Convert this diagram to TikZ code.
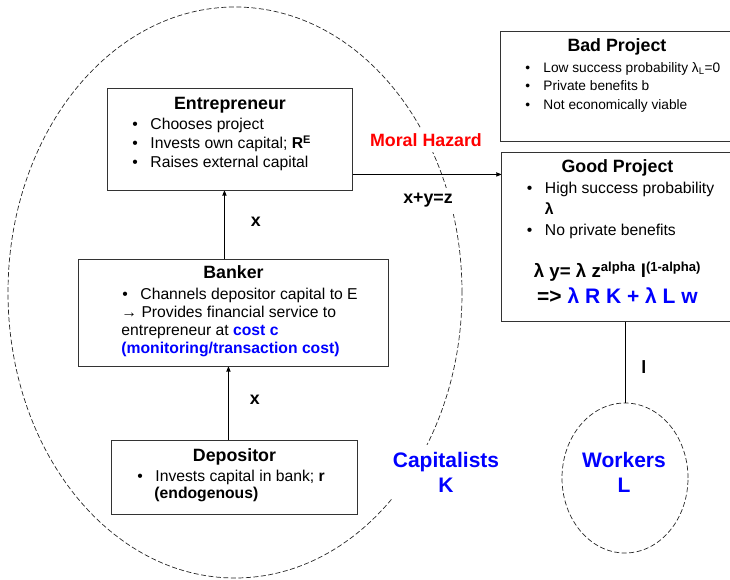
\documentclass[tikz,border=0pt]{standalone}
\usepackage{fontspec}
\setmainfont{Liberation Sans}
\usetikzlibrary{arrows,shapes.geometric,positioning}

% helpers for the text inside the boxes
\newcommand{\ttl}[2]{{\centering\fontsize{17.8}{18}\selectfont\bfseries\rule{0pt}{#1}#2\par}}
\newcommand{\itm}[2]{\hspace*{#1}\makebox[18pt][l]{\textbullet}\mbox{#2}\par}
\newcommand{\cnt}[2]{\hspace*{#1}\mbox{#2}\par}
\newcommand{\blu}[1]{\textcolor{blue}{\textbf{#1}}}

\tikzset{
  box/.style={draw=black!80, line width=0.9pt, inner sep=0pt, anchor=north west},
  dashell/.style={ellipse, draw=black!85, dash pattern=on 5pt off 2.5pt, line width=0.7pt, inner sep=0pt},
  lbl/.style={font=\fontsize{17.8}{18}\selectfont\bfseries, inner sep=0pt},
  grp/.style={font=\fontsize{21}{25}\selectfont\bfseries, text=blue, align=center, fill=white, inner sep=7pt},
}

\begin{document}
\begin{tikzpicture}[x=1pt,y=-1pt,>=stealth',line width=0.8pt]
\useasboundingbox (0,0) rectangle (730,580);

% capitalists and workers
\node[dashell, minimum width=454pt, minimum height=571pt] (capital) at (235,292.5) {};
\node[dashell, minimum width=126pt, minimum height=150pt] (workers) at (625,478) {};

\node[lbl, text=red, fill=white, inner sep=5pt, anchor=base] (hazard) at (426,146.7) {Moral Hazard};
\node[lbl, fill=white, inner sep=6pt, anchor=base] (sum) at (428,204) {x+y=z};
\node[grp] (capitalists) at (446,472) {Capitalists\\K};
\node[grp, fill=none] (wlabel) at (624,472) {Workers\\L};

% agents
\node[box] (entre) at (107,88) {\parbox[t][102pt][t]{245pt}{\fontsize{15.7}{19}\selectfont
  \ttl{21pt}{Entrepreneur}\vspace{1.3pt}
  \itm{25pt}{Chooses project}
  \itm{25pt}{Invests own capital; \textbf{R\textsuperscript{E}}}
  \itm{25pt}{Raises external capital}}};
\node[box] (banker) at (78,259) {\parbox[t][107pt][t]{310pt}{\fontsize{15.7}{17.8}\selectfont
  \ttl{19.3pt}{Banker}\vspace{3.2pt}
  \itm{44pt}{Channels depositor capital to E}
  \cnt{43pt}{→ Provides financial service to}
  \cnt{43pt}{entrepreneur at \blu{cost c}}
  \cnt{43pt}{\blu{(monitoring/transaction cost)}}}};
\node[box] (depo) at (111,440) {\parbox[t][74pt][t]{246pt}{\fontsize{15.7}{17.6}\selectfont
  \ttl{20.7pt}{Depositor}\vspace{2.4pt}
  \itm{26pt}{Invests capital in bank; \textbf{r}}
  \cnt{43pt}{\textbf{(endogenous)}}}};

% projects
\node[box] (bad) at (500,31) {\parbox[t][110pt][t]{233pt}{\fontsize{13.7}{18.8}\selectfont
  \ttl{19.7pt}{Bad Project}\vspace{2.2pt}
  \itm{25pt}{Low success probability λ\textsubscript{L}=0}
  \itm{25pt}{Private benefits b}
  \itm{25pt}{Not economically viable}}};
\node[box] (good) at (501,152) {\parbox[t][169pt][t]{232pt}{\fontsize{15.7}{21}\selectfont
  \ttl{19.7pt}{Good Project}\vspace{0.6pt}
  \itm{25.5pt}{High success probability}
  \cnt{43.5pt}{\textbf{λ}}
  \itm{25.5pt}{No private benefits}
  \vspace{16.1pt}
  {\centering\fontsize{18.7}{25.6}\selectfont\bfseries
  \mbox{λ y= λ z\textsuperscript{alpha} l\textsuperscript{(1-alpha)}}\\
  \mbox{\fontsize{21}{25.6}\selectfont => \textcolor{blue}{λ R K + λ L w}}\par}}};

% flows
\draw[->] ([xshift=-9pt]banker.north) -- ([xshift=-9pt]banker.north |- entre.south)
  node[lbl, midway, right=26pt, yshift=3pt] {x};
\draw[->] ([xshift=-6pt]depo.north) -- ([xshift=-6pt]depo.north |- banker.south)
  node[lbl, midway, right=21pt, yshift=4pt] {x};
\draw[->] ([yshift=-35pt]entre.east) -- ([yshift=-35pt]entre.east -| good.west);
\draw (workers.north |- good.south) -- (workers.north)
  node[lbl, midway, right=16pt, yshift=-5pt] {l};
\end{tikzpicture}
\end{document}
